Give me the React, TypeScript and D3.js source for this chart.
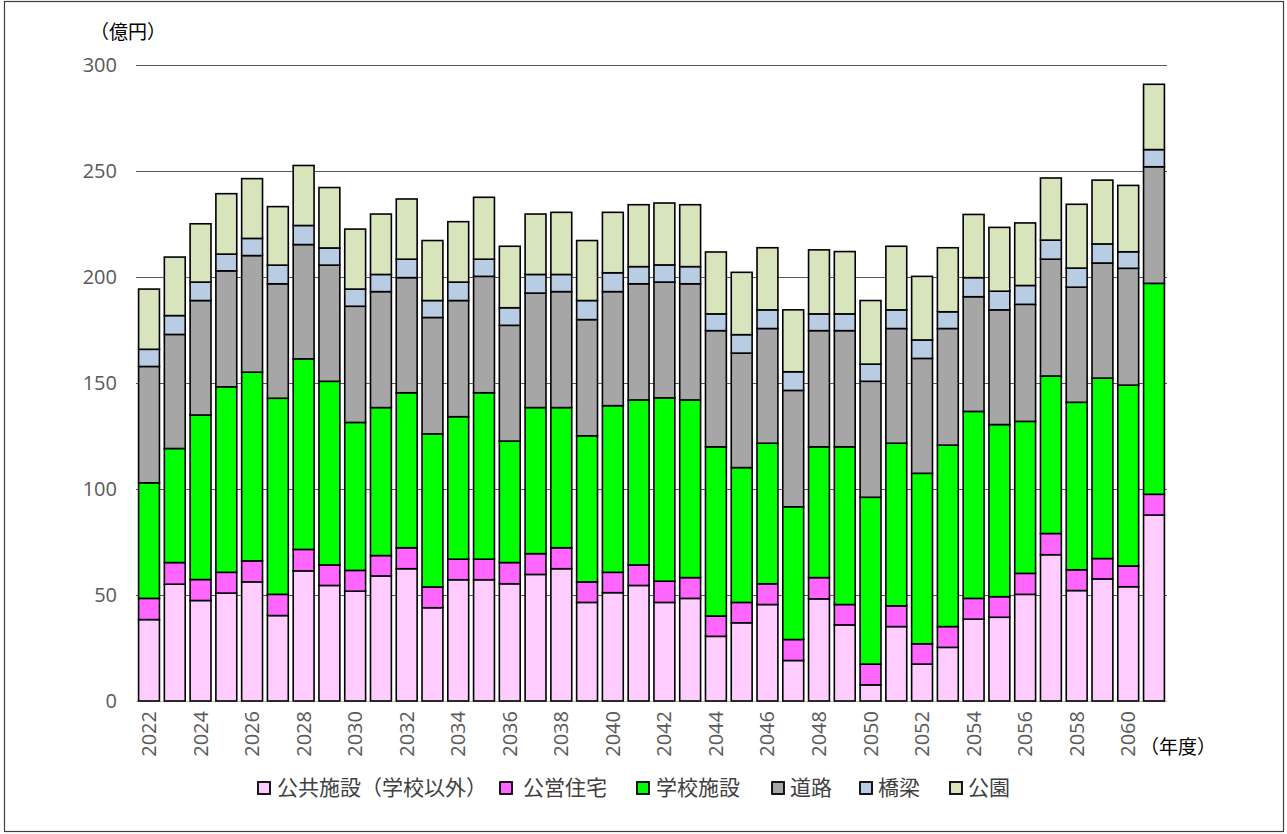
import React from 'react';
import * as d3 from 'd3';

// 年度
const years = d3.range(2022, 2062).map(String);

// 各区分の更新費用（億円）
const kokyo = [38.4, 55.1, 47.4, 50.9, 56.2, 40.3, 61.4, 54.5, 51.8, 59.0, 62.4, 44.0, 57.2, 57.2, 55.3, 59.7, 62.4, 46.5, 51.1, 54.5, 46.5, 48.4, 30.5, 36.9, 45.5, 19.1, 48.2, 35.9, 7.6, 35.1, 17.4, 25.3, 38.6, 39.5, 50.3, 69.0, 52.1, 57.6, 53.9, 87.7];
const jutaku = [10.0, 10.2, 9.9, 9.8, 9.9, 10.0, 10.1, 9.7, 9.8, 9.6, 9.9, 9.8, 9.7, 9.7, 10.0, 9.8, 9.9, 9.7, 9.6, 9.7, 10.0, 9.8, 9.6, 9.6, 9.8, 9.9, 10.0, 9.6, 9.8, 9.8, 9.6, 9.8, 9.8, 9.7, 9.9, 10.0, 9.8, 9.6, 9.8, 9.8];
const gakko = [54.5, 53.8, 77.6, 87.5, 89.0, 92.5, 89.9, 86.6, 69.8, 69.8, 73.1, 72.2, 67.2, 78.5, 57.3, 68.9, 66.1, 68.9, 78.6, 77.8, 86.5, 83.8, 79.8, 63.6, 66.3, 62.6, 61.7, 74.4, 78.7, 76.7, 80.4, 85.6, 88.2, 81.2, 71.7, 74.3, 79.0, 85.1, 85.3, 99.5];
const doro = [54.9, 53.8, 54.0, 54.7, 55.0, 54.0, 53.9, 54.8, 54.8, 54.7, 54.3, 54.9, 54.8, 54.9, 54.6, 54.0, 54.7, 54.8, 53.8, 54.8, 54.6, 54.8, 54.8, 54.0, 54.1, 54.9, 54.8, 54.8, 54.7, 54.1, 54.2, 55.0, 54.1, 54.1, 55.2, 55.1, 54.3, 54.3, 55.1, 55.0];
const kyoryo = [8.1, 8.9, 8.7, 7.9, 8.1, 8.8, 9.0, 8.1, 8.1, 8.1, 8.7, 8.0, 8.7, 8.1, 8.3, 8.8, 8.1, 9.0, 8.9, 8.1, 8.1, 8.1, 7.9, 8.7, 8.8, 8.8, 7.9, 7.9, 8.1, 8.8, 8.7, 7.9, 9.0, 8.8, 8.9, 9.0, 9.0, 9.0, 7.8, 8.1];
const koen = [28.4, 27.6, 27.5, 28.5, 28.2, 27.6, 28.3, 28.5, 28.3, 28.5, 28.4, 28.3, 28.5, 29.2, 29.0, 28.5, 29.3, 28.3, 28.5, 29.2, 29.2, 29.2, 29.2, 29.4, 29.3, 29.2, 30.2, 29.4, 30.0, 30.0, 30.0, 30.2, 29.8, 30.1, 29.5, 29.3, 30.1, 30.1, 31.3, 30.8];

const seriesNames = ['公共施設（学校以外）', '公営住宅', '学校施設', '道路', '橋梁', '公園'];
const seriesColors = ['#FFCCFF', '#FF66FF', '#00FF00', '#A6A6A6', '#B8CCE4', '#D8E4BC'];
const yTicks = [0, 50, 100, 150, 200, 250, 300];

const numFont = '"Open Sans", sans-serif';
const jpFont = '"Noto Sans CJK JP", sans-serif';

export default function App() {
  const W = 1287, H = 834;
  const left = 136, right = 1167, top = 65, bottom = 701;

  const rows = years.map((y, i) => ({
    year: y, s0: kokyo[i], s1: jutaku[i], s2: gakko[i], s3: doro[i], s4: kyoryo[i], s5: koen[i],
  }));
  const keys = ['s0', 's1', 's2', 's3', 's4', 's5'];
  const stacked = d3.stack<any>().keys(keys)(rows);

  const x = d3.scaleBand().domain(years).range([left, right]).paddingInner(0.19).paddingOuter(0.1);
  const y = d3.scaleLinear().domain([0, 300]).range([bottom, top]);

  // legend layout
  const markerX = [258, 500, 637, 772, 860, 950];
  const textX = [277, 523, 656, 790, 878, 968];

  return (
    <div style={{ position: 'absolute', left: 0, top: 0 }}>
      <svg width={W} height={H} style={{ display: 'block', background: '#fff' }}>
        <rect x={4.5} y={1.5} width={1279} height={830} fill="#fff" stroke="#404040" strokeWidth={1.2} />

        {/* grid */}
        {yTicks.filter(t => t > 0).map(t => (
          <line key={t} x1={left} x2={right} y1={Math.round(y(t)) + 0.5} y2={Math.round(y(t)) + 0.5} stroke="#595959" strokeWidth={1.2} />
        ))}
        <line x1={left} x2={right} y1={bottom + 0.5} y2={bottom + 0.5} stroke="#BFBFBF" strokeWidth={1.2} />

        {/* y labels */}
        {yTicks.map(t => (
          <text key={t} x={117} y={y(t)} dy="0.35em" textAnchor="end" fontFamily={numFont} fontSize={20} fill="#595959">{t}</text>
        ))}
        <text x={128} y={32} dy="0.35em" textAnchor="middle" fontFamily={jpFont} fontSize={19} fill="#000">（億円）</text>

        {/* bars */}
        {stacked.map((layer, si) => (
          <g key={si} fill={seriesColors[si]} stroke="#000" strokeWidth={1.6}>
            {layer.map((d: any, i: number) => (
              <rect key={i} x={x(years[i])} y={y(d[1])} width={x.bandwidth()} height={y(d[0]) - y(d[1])} />
            ))}
          </g>
        ))}

        {/* x labels */}
        {years.filter((_, i) => i % 2 === 0 && i < 39).map(yr => {
          const cx = (x(yr) as number) + x.bandwidth() / 2;
          return (
            <text key={yr} transform={`translate(${cx},${711}) rotate(-90)`} dy="0.35em" textAnchor="end"
              fontFamily={numFont} fontSize={20} fill="#595959">{yr}</text>
          );
        })}
        <text x={1140} y={747} dy="0.35em" fontFamily={jpFont} fontSize={19} fill="#000">（年度）</text>

        {/* legend */}
        {seriesNames.map((n, i) => (
          <g key={n}>
            <rect x={markerX[i]} y={782} width={12} height={12} fill={seriesColors[i]} stroke="#000" strokeWidth={1.8} />
            <text x={textX[i]} y={788} dy="0.35em" fontFamily={jpFont} fontSize={21} fill="#404040">{n}</text>
          </g>
        ))}
      </svg>
    </div>
  );
}
